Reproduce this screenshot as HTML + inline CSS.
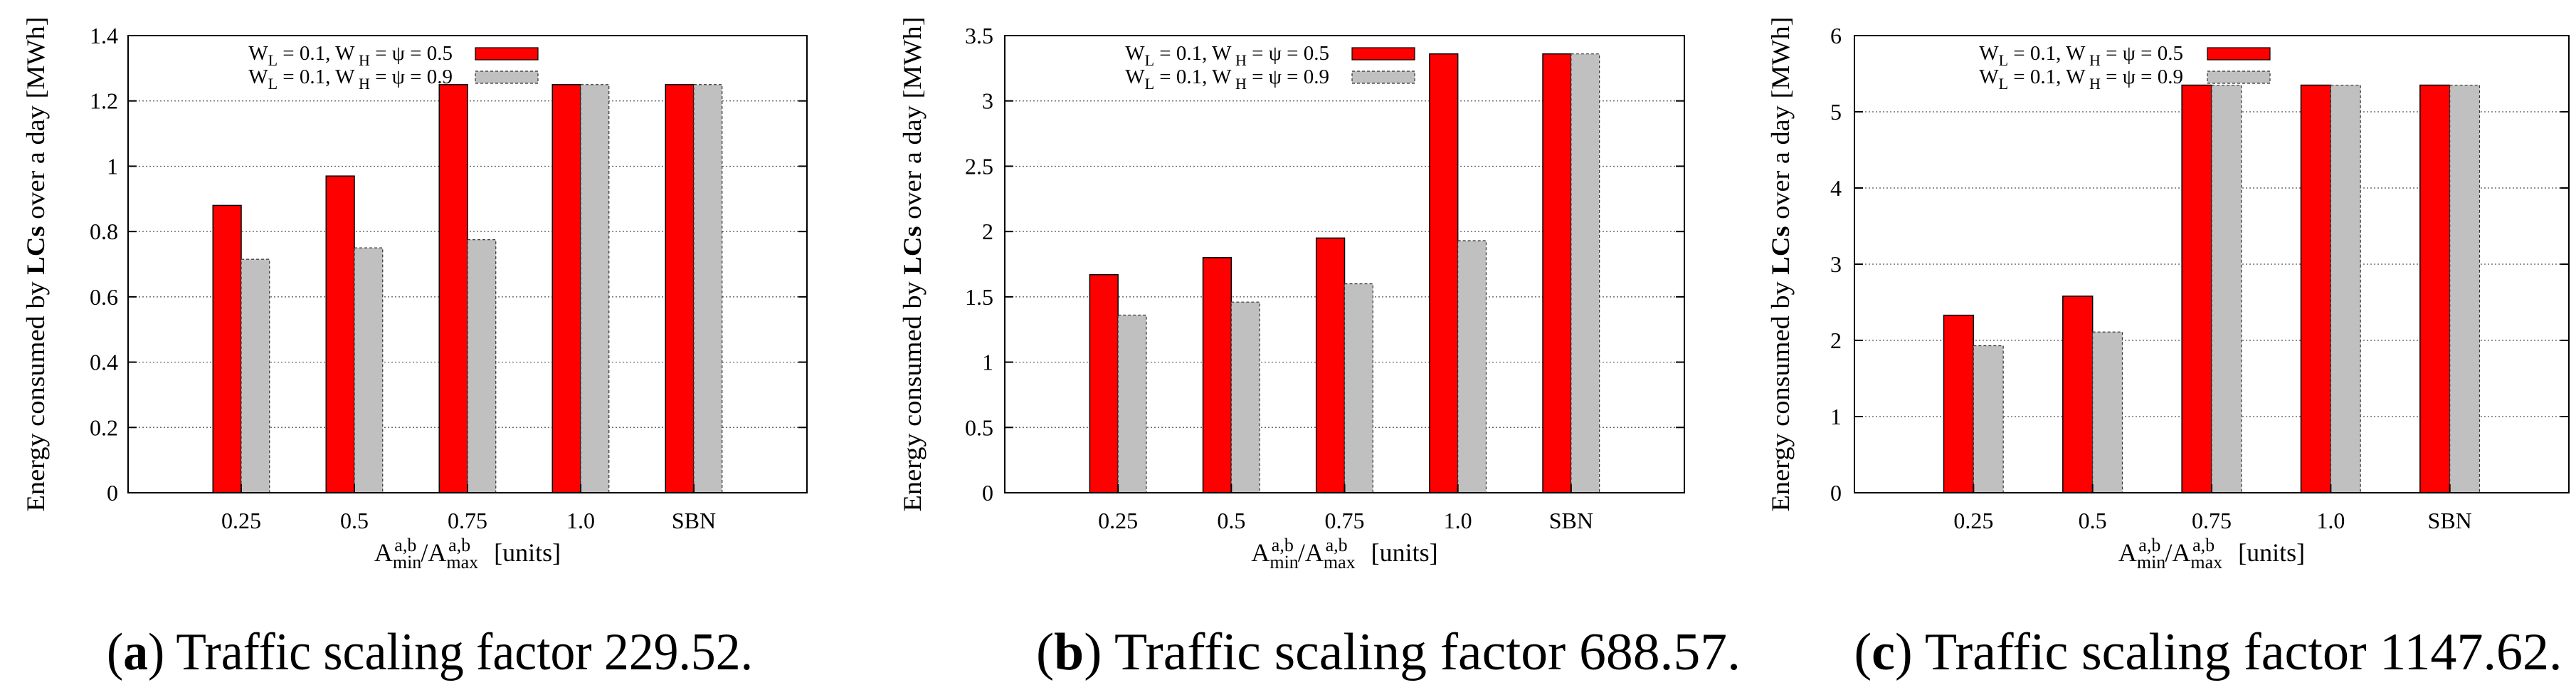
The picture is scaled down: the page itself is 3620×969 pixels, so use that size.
<!DOCTYPE html>
<html><head><meta charset="utf-8">
<style>
html,body{margin:0;padding:0;background:#fff;}
svg{display:block;font-family:"Liberation Serif",serif;}
</style></head>
<body>
<svg id="fig" width="3620" height="969" viewBox="0 0 3620 969" xmlns="http://www.w3.org/2000/svg"></svg>
<script>
const categories = ["0.25","0.5","0.75","1.0","SBN"];
const seriesNames = ["W_L = 0.1, W_H = ψ = 0.5","W_L = 0.1, W_H = ψ = 0.9"];
const aRed = [0.88, 0.97, 1.25, 1.25, 1.25];
const aGrey = [0.715, 0.75, 0.775, 1.25, 1.25];
const bRed = [1.67, 1.80, 1.95, 3.36, 3.36];
const bGrey = [1.36, 1.46, 1.60, 1.93, 3.36];
const cRed = [2.33, 2.58, 5.35, 5.35, 5.35];
const cGrey = [1.93, 2.11, 5.35, 5.35, 5.35];
const aTicks = ["0","0.2","0.4","0.6","0.8","1","1.2","1.4"];
const bTicks = ["0","0.5","1","1.5","2","2.5","3","3.5"];
const cTicks = ["0","1","2","3","4","5","6"];
const captions = [["a","Traffic scaling factor 229.52."],["b","Traffic scaling factor 688.57."],["c","Traffic scaling factor 1147.62."]];

const NS="http://www.w3.org/2000/svg";
const svg=document.getElementById('fig');
function mk(tag,attrs,parent){const e=document.createElementNS(NS,tag);for(const k in attrs)e.setAttribute(k,attrs[k]);(parent||svg).appendChild(e);return e;}

const panels=[
 {id:'a',L:180,R:1134,T:50,B:692,ymax:1.4,ticks:aTicks,red:aRed,grey:aGrey,legX:636,boxX:668,ylabX:48,tlX:166,capC:604,capW:908},
 {id:'b',L:1412,R:2367,T:50,B:692,ymax:3.5,ticks:bTicks,red:bRed,grey:bGrey,legX:1868,boxX:1900,ylabX:1280,tlX:1396,capC:1951,capW:990},
 {id:'c',L:2606,R:3610,T:50,B:692,ymax:6,ticks:cTicks,red:cRed,grey:cGrey,legX:3068,boxX:3102,ylabX:2500,tlX:2588,capC:3103,capW:995}
];

panels.forEach((p,pi)=>{
  const g=mk('g',{});
  
  
  const slot=(p.R-p.L)/6;
  const xs=i=>p.L+slot*(i+1);
  const ys=v=>p.B-(v/p.ymax)*(p.B-p.T);
  p.ticks.forEach(t=>{
    const y=ys(parseFloat(t));
    if(parseFloat(t)>0 && parseFloat(t)<p.ymax){
      const gl=mk('line',{x1:p.L,x2:p.R,y1:y,y2:y,stroke:'#555','stroke-width':1.2,'stroke-dasharray':'2,3'},g);
      
      
    }
    mk('line',{x1:p.L,x2:p.L+12,y1:y,y2:y,stroke:'#000','stroke-width':2},g);
    mk('line',{x1:p.R-12,x2:p.R,y1:y,y2:y,stroke:'#000','stroke-width':2},g);
    const tl=mk('text',{x:p.tlX,y:y+11,'text-anchor':'end','font-size':32},g);
    tl.textContent=t;
    
    
  });
  const bw=slot*0.25;
  categories.forEach((c,i)=>{
    const cx=xs(i);
    const r=mk('rect',{x:cx-bw,y:ys(p.red[i]),width:bw,height:p.B-ys(p.red[i]),fill:'#ff0000',stroke:'#000','stroke-width':1.5},g);
    
    
    const gr=mk('rect',{x:cx,y:ys(p.grey[i]),width:bw,height:p.B-ys(p.grey[i]),fill:'#c0c0c0',stroke:'#333','stroke-width':1.2,'stroke-dasharray':'4,3'},g);
    
    
    mk('line',{x1:cx,x2:cx,y1:p.B,y2:p.B-12,stroke:'#000','stroke-width':2},g);
    const xl=mk('text',{x:cx,y:p.B+50,'text-anchor':'middle','font-size':32},g);
    xl.textContent=c;
    
    
  });
  const fr=mk('rect',{x:p.L,y:p.T,width:p.R-p.L,height:p.B-p.T,fill:'none',stroke:'#000','stroke-width':2},g);
  
  
  [0,1].forEach(k=>{
    const ly=k===0?75:108;
    const t=mk('text',{x:p.legX,y:ly+9,'text-anchor':'end','font-size':29},g);
    t.innerHTML='W<tspan font-size="22" dy="8">L</tspan><tspan dy="-8"> = 0.1, W</tspan><tspan font-size="22" dy="8"> H</tspan><tspan dy="-8"> = ψ = '+(k===0?'0.5':'0.9')+'</tspan>';
    
    
    const b=mk('rect',{x:p.boxX,y:ly-8,width:88,height:17,fill:k===0?'#ff0000':'#c0c0c0',stroke:k===0?'#000':'#333','stroke-width':1.2,'stroke-dasharray':k===0?'none':'4,3'},g);
    
    
  });
  const yl=mk('text',{x:0,y:0,'text-anchor':'middle','font-size':36,transform:'translate('+(p.ylabX+14)+','+((p.T+p.B)/2)+') rotate(-90)',textLength:695,lengthAdjust:'spacingAndGlyphs'},g);
  yl.innerHTML='Energy consumed by <tspan font-weight="bold">LCs</tspan> over a day [MWh]';
  
  
  const cxm=(p.L+p.R)/2;
  const xt=mk('text',{x:cxm,y:p.B+96,'text-anchor':'middle','font-size':36},g);
  xt.innerHTML='A<tspan font-size="26" dy="10">min</tspan><tspan font-size="26" dx="-38" dy="-24">a,b</tspan><tspan dx="6" dy="14">/A</tspan><tspan font-size="26" dy="10">max</tspan><tspan font-size="26" dx="-42" dy="-24">a,b</tspan><tspan dx="24" dy="14"> [units]</tspan>';
  
  
  const cp=mk('text',{x:p.capC,y:940,'text-anchor':'middle','font-size':74,textLength:p.capW,lengthAdjust:'spacingAndGlyphs'},g);
  cp.innerHTML='(<tspan font-weight="bold">'+captions[pi][0]+'</tspan>) '+captions[pi][1];
  
  
});
</script>
</body></html>
